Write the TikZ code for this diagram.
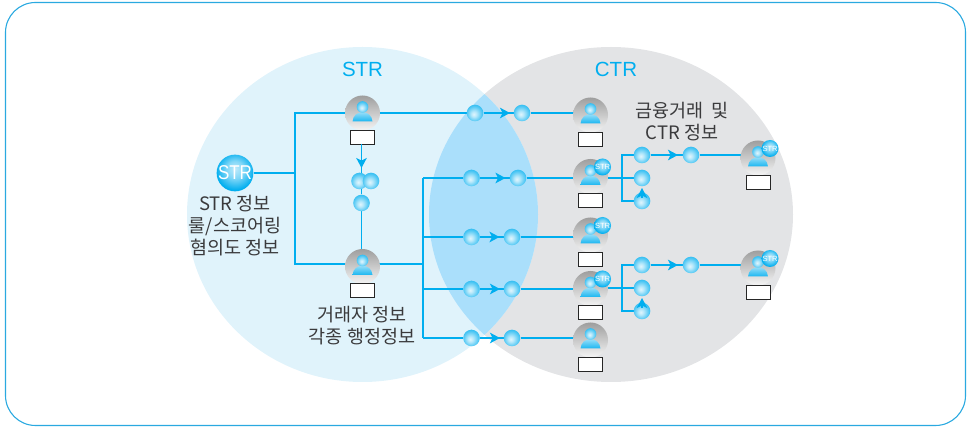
\documentclass[tikz,border=0pt]{standalone}
\usepackage{fontspec}
\setmainfont{Noto Sans CJK KR}
\newfontfamily\lat{Liberation Sans}
\usetikzlibrary{arrows.meta}
\pgfdeclarelayer{sets}
\pgfdeclarelayer{links}
\pgfsetlayers{sets,links,main}
\definecolor{cy}{HTML}{00AEEF}
\definecolor{frameC}{HTML}{2AA9E0}
\definecolor{leftC}{HTML}{E0F3FB}
\definecolor{rightC}{HTML}{E3E4E6}
\definecolor{overC}{HTML}{AADFFB}
\definecolor{txt}{HTML}{3A3A3C}
\pgfdeclareradialshading{myball}{\pgfpoint{-4bp}{-4bp}}{color(0bp)=(white!88!cy);color(8bp)=(white!72!cy);color(16bp)=(white!50!cy);color(24bp)=(white!28!cy);color(32bp)=(white!12!cy);color(50bp)=(white!12!cy)}
\pgfdeclareradialshading{mybig}{\pgfpoint{0bp}{6bp}}{color(0bp)=(white!75!cy);color(12bp)=(white!50!cy);color(26bp)=(cy);color(50bp)=(cy)}
\tikzset{
  x=1pt,y=-1pt,
  conn/.style={draw=cy,line width=1.7pt},
  arr/.style={conn,-{Stealth[length=10pt,width=10.5pt,inset=2.5pt]}},
  ball/.style={circle,inner sep=0pt,minimum size=16.6pt,shading=myball},
  bigball/.style={circle,inner sep=0pt,minimum size=35pt,shading=mybig,text=white,font=\lat\fontsize{20}{20}\selectfont},
  badge/.style={circle,inner sep=0pt,minimum size=17pt,shading=mybig,text=white,font=\lat\fontsize{7.5}{8}\selectfont},
  personbg/.style={circle,inner sep=0pt,minimum size=35pt,top color=black!38,bottom color=black!4},
  idbox/.style={draw=black!85,fill=white,line width=0.9pt,minimum width=24pt,minimum height=14pt,inner sep=0pt},
  lab/.style={text=txt,align=center,font=\fontsize{18.5}{22}\selectfont},
  head/.style={text=cy,font=\lat\fontsize{20.5}{20}\selectfont},
}
\newcommand{\person}[3]{%
  \node[personbg] (#1) at (#2,#3) {};
  \shade[top color=white!75!cy,bottom color=white!10!cy] (#2-10,#3+8.5) .. controls (#2-9,#3-4) and (#2+9,#3-4) .. (#2+10,#3+8.5) -- cycle;
  \shade[shading=myball] (#2,#3-6) circle[radius=5.8];
  \node[idbox] (#1box) at (#2,#3+24) {};
}
\newcommand{\personS}[3]{%
  \person{#1}{#2}{#3}
  \node[badge] (#1s) at (#2+12,#3-9.5) {STR};
}
\begin{document}
\begin{tikzpicture}
\useasboundingbox (0,0) rectangle (967,427);
\draw[frameC,line width=1.1pt,rounded corners=30pt] (5.5,2.5) rectangle (965.5,425.5);
\begin{pgfonlayer}{sets}
\fill[rightC] (611,214.5) ellipse[x radius=182,y radius=167.5];
\fill[leftC] (362.5,214.5) ellipse[x radius=175.5,y radius=167.5];
\begin{scope}
\clip (362.5,214.5) ellipse[x radius=175.5,y radius=167.5];
\fill[overC] (611,214.5) ellipse[x radius=182,y radius=167.5];
\end{scope}
\end{pgfonlayer}
\node[head] (lstr) at (362.5,69) {STR};
\node[head] (lctr) at (616,69) {CTR};
% people
\node[bigball] (src) at (235,173) {\scalebox{.85}[1]{STR}};
\person{pa}{362.5}{113}
\person{pb}{362.5}{266.5}
\person{pc}{590.5}{115}
\personS{pd}{590.5}{176.5}
\personS{pe}{590.5}{235}
\personS{pf}{590.5}{288.5}
\person{pg}{590.5}{340}
\personS{ph}{758}{158}
\personS{pi}{758}{268}
% balls
\foreach \n/\x/\y in {a1/359.5/181,a2/371/181,a3/361.5/203,
  b1/475/113,b2/522/113,c1/471.5/178,c2/518/178,d1/471.5/237,d2/512/237,
  e1/471.5/289,e2/512/289,f1/471.5/338,f2/512/338,
  g1/642/155,g2/642/178,g3/642/201,g4/691/155,
  h1/642/265,h2/642/288,h3/642/311,h4/691/265}
  \node[ball] (\n) at (\x,\y) {};
% junctions
\coordinate (j1) at (295,173);
\coordinate (j2) at (295,113);
\coordinate (j3) at (295,264);
\coordinate (k0) at (423,264);
\coordinate (k1) at (423,178);
\coordinate (k2) at (423,237);
\coordinate (k3) at (423,289);
\coordinate (k4) at (423,338);
\coordinate (m1) at (622,178);
\coordinate (m2) at (622,288);
\coordinate (t0) at (361.5,168);
\coordinate (t1) at (510,113);
\coordinate (t2) at (505.5,178);
\coordinate (t3) at (500,289);
\coordinate (t4) at (500,338);
\coordinate (t5) at (499.5,237);
\coordinate (t6) at (678,155);
\coordinate (t7) at (678,265);
\coordinate (t8) at (642,188);
\coordinate (s8) at (642,198);
\coordinate (t9) at (642,298);
\coordinate (s9) at (642,308);
\begin{pgfonlayer}{links}
\draw[conn] (src) -- (j1);
\draw[conn] (pa) -- (j2) -- (j3) -- (pb.center |- j3);
\draw[conn] (pb.center |- k0) -- (k0);
\draw[conn] (k1) -- (k4);
\draw[conn] (pa) -- (b1);
\draw[conn] (b1) -- (b2);
\draw[conn] (b2) -- (b2 -| pc.center);
\draw[conn] (k1) -- (c1) -- (c2) -- (c2 -| pd.center);
\draw[conn] (k2) -- (d1) -- (d2) -- (d2 -| pe.center);
\draw[conn] (k3) -- (e1) -- (e2) -- (e2 -| pf.center);
\draw[conn] (k4) -- (f1) -- (f2) -- (f2 -| pg.center);
\draw[conn] (g2 -| pd.center) -- (g2);
\draw[conn] (g1) -| (m1) |- (g3);
\draw[conn] (g1) -- (g4) -- (g4 -| ph.center);
\draw[conn] (h2 -| pf.center) -- (h2);
\draw[conn] (h1) -| (m2) |- (h3);
\draw[conn] (h1) -- (h4) -- (h4 -| pi.center);
\draw[conn] (pabox.south -| t0) -- (t0);
\draw[conn] (t0) -- (a3.north);
\draw[conn] (a3.south) -- (a3.south |- pb.north);
\end{pgfonlayer}
% arrowheads lying on the links
\draw[arr] (b1) -- (t1);
\draw[arr] (c1) -- (t2);
\draw[arr] (d1) -- (t5);
\draw[arr] (e1) -- (t3);
\draw[arr] (f1) -- (t4);
\draw[arr] (g1) -- (t6);
\draw[arr] (h1) -- (t7);
\draw[arr] (s8) -- (t8);
\draw[arr] (s9) -- (t9);
\draw[arr] (pabox.south -| t0) -- (t0);
% labels
\node[lab] (la) at (235,226) {STR 정보\\룰/스코어링\\혐의도 정보};
\node[lab] (lb) at (362,326) {거래자 정보\\각종 행정정보};
\node[lab] (lc) at (682,121.5) {금융거래\ \ 및\\CTR 정보};
\end{tikzpicture}
\end{document}
